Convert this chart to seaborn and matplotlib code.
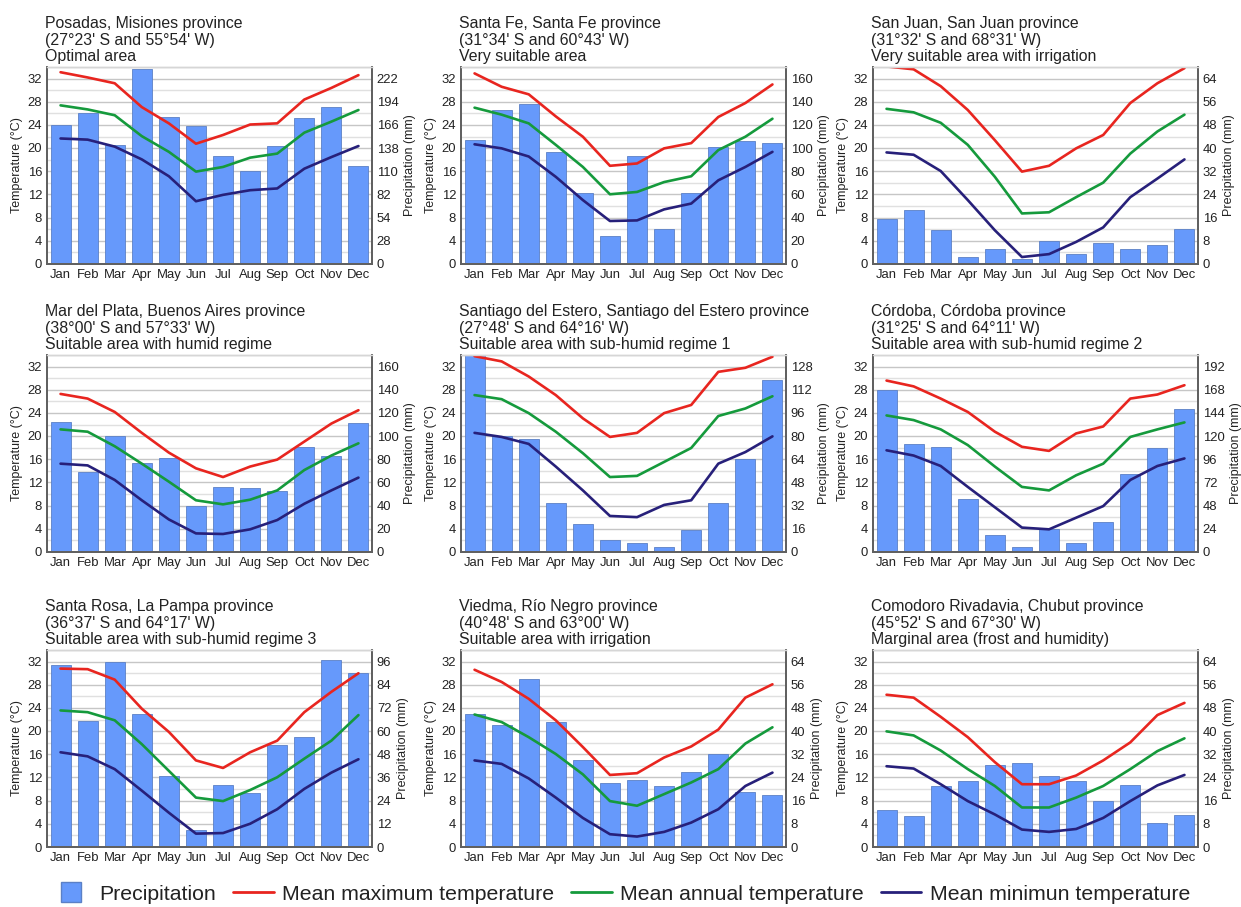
import numpy as np
import pandas as pd
import matplotlib
matplotlib.use("Agg")
import matplotlib.pyplot as plt
from matplotlib.lines import Line2D
import seaborn as sns

months = ["Jan", "Feb", "Mar", "Apr", "May", "Jun",
          "Jul", "Aug", "Sep", "Oct", "Nov", "Dec"]

titles = [
    "Posadas, Misiones province\n(27°23' S and 55°54' W)\nOptimal area",
    "Santa Fe, Santa Fe province\n(31°34' S and 60°43' W)\nVery suitable area",
    "San Juan, San Juan province\n(31°32' S and 68°31' W)\nVery suitable area with irrigation",
    "Mar del Plata, Buenos Aires province\n(38°00' S and 57°33' W)\nSuitable area with humid regime",
    "Santiago del Estero, Santiago del Estero province\n(27°48' S and 64°16' W)\nSuitable area with sub-humid regime 1",
    "Córdoba, Córdoba province\n(31°25' S and 64°11' W)\nSuitable area with sub-humid regime 2",
    "Santa Rosa, La Pampa province\n(36°37' S and 64°17' W)\nSuitable area with sub-humid regime 3",
    "Viedma, Río Negro province\n(40°48' S and 63°00' W)\nSuitable area with irrigation",
    "Comodoro Rivadavia, Chubut province\n(45°52' S and 67°30' W)\nMarginal area (frost and humidity)",
]

# Monthly precipitation (mm), one row per station in the order of `titles`
precip_mm = [
    [166, 181, 143, 233, 176, 165, 129, 111, 141, 175, 188, 117],
    [107, 133, 138, 97, 61, 24, 93, 30, 61, 101, 106, 104],
    [15.6, 18.5, 11.8, 2.3, 5.2, 1.7, 7.8, 3.5, 7.3, 5.1, 6.7, 12.1],
    [112, 69, 100, 77, 81, 40, 56, 55, 53, 91, 83, 111],
    [137, 80, 78, 34, 19, 8, 6.4, 3.2, 15, 34, 64, 119],
    [168, 112, 109, 55, 18, 5, 24, 9, 31, 81, 108, 148],
    [94, 65, 96, 69, 37, 9, 32, 28, 53, 57, 97, 90],
    [46, 42, 58, 43, 30, 22, 23, 21, 26, 32, 19, 18],
    [12.7, 10.6, 20.9, 22.8, 28.3, 28.9, 24.5, 22.8, 15.8, 21.4, 8.2, 11.0],
]

# Mean maximum temperature (°C)
tmax_c = [
    [33.0, 32.1, 31.1, 27.0, 24.2, 20.7, 22.2, 24.0, 24.2, 28.3, 30.3, 32.5],
    [32.8, 30.5, 29.2, 25.4, 21.9, 16.9, 17.3, 19.9, 20.8, 25.3, 27.7, 30.9],
    [34.0, 33.5, 30.6, 26.5, 21.3, 15.9, 16.9, 19.9, 22.2, 27.7, 31.1, 33.7],
    [27.2, 26.4, 24.1, 20.5, 17.1, 14.4, 12.9, 14.7, 15.9, 19.0, 22.1, 24.4],
    [33.7, 32.8, 30.2, 27.0, 23.0, 19.8, 20.5, 23.9, 25.3, 31.0, 31.7, 33.6],
    [29.5, 28.5, 26.4, 24.1, 20.7, 18.1, 17.4, 20.4, 21.6, 26.4, 27.1, 28.7],
    [30.7, 30.6, 28.8, 23.8, 19.8, 14.9, 13.6, 16.3, 18.3, 23.2, 26.7, 29.9],
    [30.5, 28.4, 25.5, 21.8, 17.2, 12.4, 12.7, 15.4, 17.3, 20.2, 25.7, 28.0],
    [26.2, 25.7, 22.4, 18.9, 14.6, 10.8, 10.8, 12.3, 14.9, 18.0, 22.7, 24.8],
]

# Mean annual temperature (°C)
tmean_c = [
    [27.3, 26.6, 25.6, 22.0, 19.3, 15.9, 16.7, 18.3, 19.0, 22.6, 24.5, 26.5],
    [26.9, 25.7, 24.2, 20.5, 16.7, 12.0, 12.4, 14.1, 15.1, 19.6, 21.9, 25.0],
    [26.7, 26.1, 24.3, 20.5, 15.0, 8.7, 8.9, 11.5, 14.0, 19.0, 22.8, 25.7],
    [21.1, 20.7, 18.2, 15.2, 12.1, 8.9, 8.2, 9.0, 10.6, 14.1, 16.6, 18.7],
    [27.0, 26.3, 23.9, 20.7, 17.0, 12.9, 13.1, 15.5, 17.9, 23.4, 24.7, 26.8],
    [23.5, 22.7, 21.1, 18.4, 14.7, 11.2, 10.6, 13.2, 15.2, 19.8, 21.1, 22.3],
    [23.5, 23.2, 21.8, 17.7, 13.1, 8.5, 7.9, 9.8, 12.0, 15.2, 18.3, 22.7],
    [22.8, 21.5, 18.9, 16.0, 12.5, 7.9, 7.1, 9.1, 11.1, 13.4, 17.8, 20.6],
    [19.9, 19.2, 16.6, 13.4, 10.5, 6.8, 6.8, 8.5, 10.5, 13.4, 16.5, 18.7],
]

# Mean minimum temperature (°C)
tmin_c = [
    [21.6, 21.4, 20.2, 18.0, 15.1, 10.8, 11.9, 12.7, 13.0, 16.4, 18.4, 20.3],
    [20.6, 19.9, 18.5, 15.0, 11.0, 7.4, 7.5, 9.4, 10.4, 14.4, 16.7, 19.3],
    [19.2, 18.8, 16.0, 11.0, 5.8, 1.2, 1.7, 3.8, 6.3, 11.5, 14.7, 18.0],
    [15.2, 14.9, 12.4, 8.9, 5.6, 3.2, 3.1, 3.9, 5.5, 8.3, 10.6, 12.8],
    [20.5, 19.8, 18.6, 14.7, 10.6, 6.2, 6.0, 8.1, 8.9, 15.2, 17.2, 19.9],
    [17.5, 16.6, 14.8, 11.2, 7.7, 4.2, 3.9, 5.9, 7.9, 12.4, 14.8, 16.1],
    [16.3, 15.6, 13.4, 9.7, 5.9, 2.3, 2.4, 4.0, 6.5, 10.0, 12.8, 15.1],
    [14.9, 14.3, 11.8, 8.5, 5.0, 2.2, 1.8, 2.6, 4.2, 6.5, 10.5, 12.8],
    [13.9, 13.5, 10.8, 7.9, 5.6, 3.0, 2.6, 3.1, 5.0, 7.9, 10.6, 12.4],
]

# Temperature ticks (left axis) and matching precipitation tick labels (right axis)
temp_ticks = [0, 4, 8, 12, 16, 20, 24, 28, 32]
precip_tick_labels = [
    [0, 28, 54, 82, 110, 138, 166, 194, 222],
    [0, 20, 40, 60, 80, 100, 120, 140, 160],
    [0, 8, 16, 24, 32, 40, 48, 56, 64],
    [0, 20, 40, 60, 80, 100, 120, 140, 160],
    [0, 16, 32, 48, 64, 80, 96, 112, 128],
    [0, 24, 48, 72, 96, 120, 144, 168, 192],
    [0, 12, 24, 36, 48, 60, 72, 84, 96],
    [0, 8, 16, 24, 32, 40, 48, 56, 64],
    [0, 8, 16, 24, 32, 40, 48, 56, 64],
]

series_names = ["Mean maximum temperature", "Mean annual temperature",
                "Mean minimun temperature"]

BAR = "#6699fb"
BAR_EDGE = "#5b80c6"
COLORS = {"Mean maximum temperature": "#e8251f",
          "Mean annual temperature": "#159a3c",
          "Mean minimun temperature": "#27207a"}
SPINE = "#606060"
TEXT = "#222222"

sns.set_style("white")
plt.rcParams["font.family"] = ["Liberation Sans", "DejaVu Sans"]

W, H = 1241, 907
fig = plt.figure(figsize=(W / 100, H / 100), dpi=100)

col_left = [47, 461, 873]
row_top = [67, 355, 650]
aw, ah = 325, 197
T_TOP = 33.9

for i in range(9):
    r, c = divmod(i, 3)
    rect = [col_left[c] / W, 1 - (row_top[r] + ah) / H, aw / W, ah / H]
    ax_p = fig.add_axes(rect)
    ax_t = ax_p.twinx()

    # Precipitation bars (right-hand axis)
    df_p = pd.DataFrame({"month": months, "precip": precip_mm[i]})
    sns.barplot(data=df_p, x="month", y="precip", ax=ax_p, color=BAR,
                saturation=1, width=0.74, edgecolor=BAR_EDGE, linewidth=0.6,
                errorbar=None)

    # Temperature lines (left-hand axis)
    df_t = pd.DataFrame({
        "pos": np.tile(np.arange(12), 3),
        "temp": np.concatenate([tmax_c[i], tmean_c[i], tmin_c[i]]),
        "series": np.repeat(series_names, 12),
    })
    sns.lineplot(data=df_t, x="pos", y="temp", hue="series", palette=COLORS,
                 ax=ax_t, legend=False, linewidth=1.9, sort=False,
                 solid_joinstyle="round", solid_capstyle="round")

    # Scales: both axes share the same vertical grid
    factor = precip_tick_labels[i][-1] / temp_ticks[-1]
    ax_t.set_ylim(0, T_TOP)
    ax_p.set_ylim(0, T_TOP * factor)
    ax_p.set_xlim(-0.5, 11.5)

    ax_t.set_yticks(temp_ticks)
    ax_t.set_yticklabels([str(t) for t in temp_ticks])
    ax_p.set_yticks([t * factor for t in temp_ticks])
    ax_p.set_yticklabels([str(v) for v in precip_tick_labels[i]])
    ax_p.set_yticks([(t + 2) * factor for t in temp_ticks], minor=True)

    ax_p.yaxis.tick_right()
    ax_p.yaxis.set_label_position("right")
    ax_t.yaxis.tick_left()
    ax_t.yaxis.set_label_position("left")

    ax_p.set_axisbelow(True)
    ax_p.grid(axis="y", which="major", color="#c6c6c6", linewidth=1.0)
    ax_p.grid(axis="y", which="minor", color="#e0e0e0", linewidth=1.0)
    ax_p.grid(axis="x", visible=False)
    ax_t.grid(False)

    for ax in (ax_p, ax_t):
        ax.tick_params(axis="both", which="both", length=0, labelsize=9.4,
                       labelcolor=TEXT, pad=3.5)
        for side in ("left", "right", "bottom"):
            ax.spines[side].set_visible(True)
            ax.spines[side].set_color(SPINE)
            ax.spines[side].set_linewidth(1.3)
        ax.spines["top"].set_visible(True)
        ax.spines["top"].set_color("#d6d6d6")
        ax.spines["top"].set_linewidth(1.0)

    ax_p.set_xlabel("")
    ax_t.set_xlabel("")
    ax_t.set_ylabel("Temperature (°C)", fontsize=9, color=TEXT, labelpad=3)
    ax_p.set_ylabel("Precipitation (mm)", fontsize=9, color=TEXT, labelpad=4)

    ax_t.set_title(titles[i], loc="left", fontsize=11.4, color=TEXT,
                   pad=4, linespacing=1.15, x=-0.006)

handles = [Line2D([], [], marker="s", linestyle="none", markersize=15,
                  markerfacecolor=BAR, markeredgecolor=BAR_EDGE)]
handles += [Line2D([], [], color=COLORS[s], linewidth=2) for s in series_names]
labels = ["Precipitation"] + series_names
fig.legend(handles, labels, loc="center", bbox_to_anchor=(0.5, 1 - 894 / H),
           ncol=4, frameon=False, fontsize=15.3, handlelength=1.9,
           handletextpad=0.4, columnspacing=0.8, labelcolor=TEXT)

fig.savefig("out.png", dpi=100)
